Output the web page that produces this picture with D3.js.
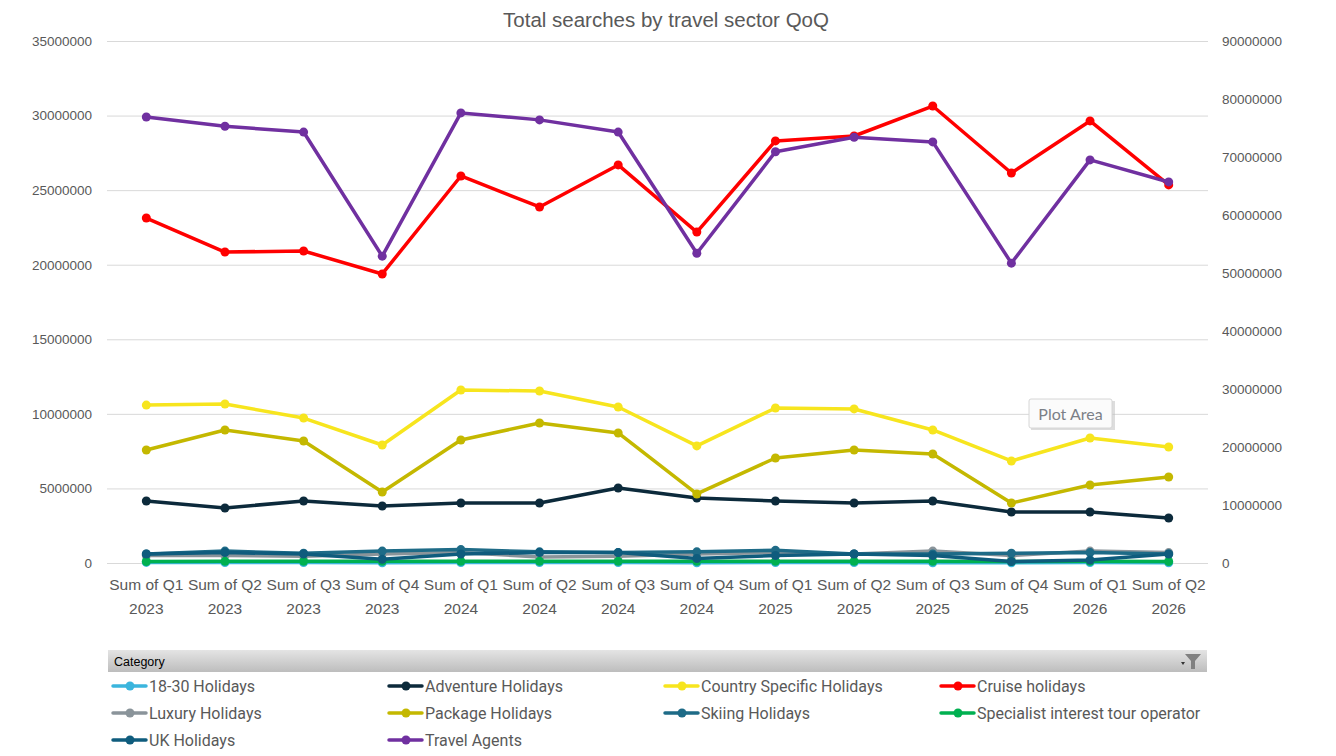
<!DOCTYPE html>
<html><head><meta charset="utf-8">
<script src="https://cdn.jsdelivr.net/npm/d3@7/dist/d3.min.js"></script>
<style>body{margin:0;background:#fff;}svg{display:block;}</style>
</head><body>
<svg id="c" width="1336" height="756"></svg>
<script>
const categories = ["Sum of Q1 2023","Sum of Q2 2023","Sum of Q3 2023","Sum of Q4 2023","Sum of Q1 2024","Sum of Q2 2024","Sum of Q3 2024","Sum of Q4 2024","Sum of Q1 2025","Sum of Q2 2025","Sum of Q3 2025","Sum of Q4 2025","Sum of Q1 2026","Sum of Q2 2026"];
const leftTicks = [0,5000000,10000000,15000000,20000000,25000000,30000000,35000000];
const rightTicks = [0,10000000,20000000,30000000,40000000,50000000,60000000,70000000,80000000,90000000];

const holidays1830 = [40000,30000,30000,20000,30000,30000,30000,20000,30000,30000,10000,20000,30000,20000];
const adventure = [4160000,3690000,4160000,3820000,4020000,4020000,5030000,4360000,4160000,4020000,4160000,3420000,3420000,3020000];
const countrySpecific = [10590000,10660000,9720000,7910000,11600000,11530000,10460000,7850000,10390000,10330000,8920000,6840000,8380000,7780000];
const cruise = [23130000,20850000,20920000,19380000,25950000,23870000,26690000,22190000,28300000,28630000,30640000,26150000,29640000,25350000];
const luxury = [500000,500000,450000,600000,700000,400000,450000,600000,700000,600000,800000,500000,800000,700000];
const packageH = [7580000,8920000,8180000,4760000,8250000,9390000,8720000,4630000,7040000,7580000,7310000,4020000,5230000,5770000];
const skiing = [600000,800000,650000,800000,900000,750000,700000,750000,850000,600000,600000,650000,700000,600000];
const specialist = [100000,110000,110000,120000,110000,110000,110000,120000,120000,110000,110000,100000,110000,100000];
const ukHolidays = [600000,700000,600000,250000,600000,700000,700000,300000,500000,600000,500000,100000,200000,600000];
const travelAgents = [76900000,75300000,74300000,52900000,77600000,76400000,74300000,53400000,70900000,73400000,72600000,51700000,69500000,65700000];

const seriesNames = ["18-30 Holidays","Adventure Holidays","Country Specific Holidays","Cruise holidays","Luxury Holidays","Package Holidays","Skiing Holidays","Specialist interest tour operator","UK Holidays","Travel Agents"];
const seriesColors = ["#3bb5dd","#0c2a3b","#f7e51e","#ff0000","#8a949a","#c4b800","#1e6b87","#00b050","#0f5c7d","#7030a0"];
const seriesAxis = ["L","L","L","L","L","L","L","L","L","R"];
const seriesValues = [holidays1830,adventure,countrySpecific,cruise,luxury,packageH,skiing,specialist,ukHolidays,travelAgents];

const svg = d3.select("#c");
const plotL = 107, plotR = 1208, plotT = 41, plotB = 563;
const x = d3.scalePoint().domain(categories).range([plotL, plotR]).padding(0.5);
const yL = d3.scaleLinear().domain([0,35000000]).range([plotB, plotT]);
const yR = d3.scaleLinear().domain([0,90000000]).range([plotB, plotT]);
const txt = "#595959";

// title
svg.append("text").attr("x",666).attr("y",27).attr("text-anchor","middle")
  .attr("font-family","Liberation Sans, Arial, sans-serif").attr("font-size",20.5).attr("fill",txt)
  .text("Total searches by travel sector QoQ");

// gridlines
svg.append("g").selectAll("line").data(leftTicks).join("line")
  .attr("x1",plotL).attr("x2",plotR).attr("y1",d=>yL(d)+0.5).attr("y2",d=>yL(d)+0.5)
  .attr("stroke","#d9d9d9").attr("stroke-width",1);

// left axis
const axL = d3.axisLeft(yL).tickValues(leftTicks).tickFormat(d=>String(d)).tickSize(0).tickPadding(0);
const gL = svg.append("g").attr("transform",`translate(92,0)`).call(axL);
gL.select(".domain").remove();
gL.selectAll("text").attr("font-family","Liberation Sans, Arial, sans-serif").attr("font-size",13.5).attr("fill",txt);

// right axis
const axR = d3.axisRight(yR).tickValues(rightTicks).tickFormat(d=>String(d)).tickSize(0).tickPadding(0);
const gR = svg.append("g").attr("transform",`translate(1222,0)`).call(axR);
gR.select(".domain").remove();
gR.selectAll("text").attr("font-family","Liberation Sans, Arial, sans-serif").attr("font-size",13.5).attr("fill",txt);

// category labels
const gX = svg.append("g");
categories.forEach(c=>{
  const parts = c.split(" ");
  const t = gX.append("text").attr("text-anchor","middle").attr("font-family","Liberation Sans, Arial, sans-serif")
    .attr("font-size",15.5).attr("fill",txt);
  t.append("tspan").attr("x",x(c)).attr("y",590).text(parts.slice(0,3).join(" "));
  t.append("tspan").attr("x",x(c)).attr("y",614).text(parts[3]);
});

// series
const line = (ys)=>d3.line().x((d,i)=>x(categories[i])).y(d=>ys(d));
seriesValues.forEach((vals,k)=>{
  const ys = seriesAxis[k]==="R"?yR:yL;
  const g = svg.append("g");
  g.append("path").datum(vals).attr("d",line(ys)).attr("fill","none")
    .attr("stroke",seriesColors[k]).attr("stroke-width",3.5).attr("stroke-linejoin","round").attr("stroke-linecap","round");
  g.selectAll("circle").data(vals).join("circle")
    .attr("cx",(d,i)=>x(categories[i])).attr("cy",d=>ys(d)).attr("r",4.5).attr("fill",seriesColors[k]);
});

// Plot Area tooltip
const tip = svg.append("g");
tip.append("rect").attr("x",1031).attr("y",401).attr("width",84).attr("height",29).attr("fill","#bbb").attr("opacity",0.5);
tip.append("rect").attr("x",1029).attr("y",399).attr("width",83).attr("height",29).attr("rx",2)
  .attr("fill","#fbfbfb").attr("stroke","#d6d6d6");
tip.append("text").attr("x",1070.5).attr("y",420).attr("text-anchor","middle")
  .attr("font-family","Lato, Liberation Sans, sans-serif").attr("font-size",16).attr("fill","#7b8087").text("Plot Area");

// filter bar
const defs = svg.append("defs");
const grad = defs.append("linearGradient").attr("id","fb").attr("x1",0).attr("x2",0).attr("y1",0).attr("y2",1);
grad.append("stop").attr("offset","0%").attr("stop-color","#e4e4e4");
grad.append("stop").attr("offset","100%").attr("stop-color","#bdbdbd");
svg.append("rect").attr("x",108).attr("y",650).attr("width",1099).attr("height",22).attr("fill","url(#fb)");
svg.append("text").attr("x",114).attr("y",666).attr("font-family","Liberation Sans, Arial, sans-serif")
  .attr("font-size",12.5).attr("fill","#000").text("Category");
svg.append("path").attr("d","M1181,662 L1185,662 L1183,665 Z").attr("fill","#333");
svg.append("path").attr("d","M1185,654 L1201,654 L1195,661 L1195,669 L1191,669 L1191,661 Z").attr("fill","#808080");

// legend
const colX = [113,389,665,941], rowY = [686,713,740];
seriesNames.forEach((n,k)=>{
  const cx = colX[k%4], cy = rowY[Math.floor(k/4)];
  const g = svg.append("g");
  g.append("line").attr("x1",cx).attr("x2",cx+33).attr("y1",cy).attr("y2",cy)
    .attr("stroke",seriesColors[k]).attr("stroke-width",3.5).attr("stroke-linecap","round");
  g.append("circle").attr("cx",cx+17).attr("cy",cy).attr("r",4.5).attr("fill",seriesColors[k]);
  g.append("text").attr("x",cx+36).attr("y",cy+5.5).attr("font-family","Liberation Sans Narrow, Roboto, sans-serif")
    .attr("font-size",16).attr("fill",txt).text(n);
});
</script>
</body></html>
